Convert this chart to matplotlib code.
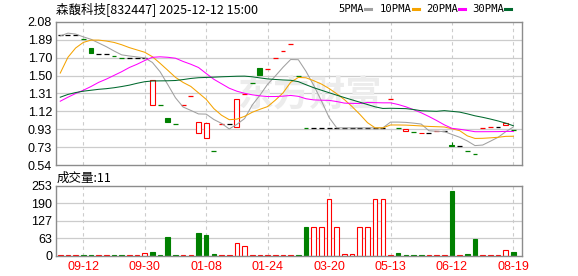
import matplotlib
matplotlib.use("Agg")
import matplotlib.pyplot as plt
from matplotlib.patches import Rectangle
import numpy as np

W, H = 578, 276

# ---------------- data ----------------
title = "森馥科技[832447] 2025-12-12 15:00"
vol_title = "成交量:11"
ma_names = ["5PMA", "10PMA", "20PMA", "30PMA"]
price_tick_labels = ["0.54", "0.73", "0.93", "1.12", "1.31", "1.50", "1.70", "1.89", "2.08"]
vol_tick_labels = ["0", "63", "127", "190", "253"]
xtick_labels = ["09-12", "09-30", "01-08", "01-24", "03-20", "05-13", "06-12", "08-19"]

opens = [1.94, 1.94, 1.94, 1.90, 1.80, 1.74, 1.74, 1.71, 1.69, 1.69,
         1.69, 1.69, 1.19, 1.19, 1.05, 0.98, 1.19, 1.28, 0.88, 0.83,
         0.69, 0.98, 0.98, 0.95, 1.30, 1.42, 1.58, 1.57, 1.69, 1.77,
         1.84, 1.50, 0.94, 0.94, 0.94, 0.94, 0.94, 0.94, 0.94, 0.94,
         0.94, 0.94, 0.94, 1.25, 0.94, 0.91, 0.90, 0.88, 0.89, 0.91,
         0.91, 0.76, 0.74, 0.69, 0.66, 0.94, 0.95, 0.95, 0.97, 0.92]
closes = [1.94, 1.94, 1.94, 1.90, 1.75, 1.74, 1.74, 1.71, 1.69, 1.69,
          1.69, 1.69, 1.46, 1.19, 1.00, 0.98, 1.19, 1.28, 1.00, 0.99,
          0.69, 0.98, 0.98, 1.25, 1.30, 1.42, 1.51, 1.57, 1.69, 1.77,
          1.84, 1.50, 0.94, 0.94, 0.94, 0.94, 0.94, 0.94, 0.94, 0.94,
          0.94, 0.94, 0.94, 1.25, 0.94, 0.925, 0.90, 0.89, 0.89, 0.91,
          0.91, 0.745, 0.74, 0.69, 0.66, 0.94, 0.95, 0.95, 0.99, 0.92]
highs = [1.94, 1.94, 1.94, 1.90, 1.80, 1.74, 1.74, 1.71, 1.69, 1.69,
         1.69, 1.69, 1.46, 1.19, 1.05, 0.98, 1.19, 1.28, 1.00, 0.99,
         0.69, 0.98, 0.98, 1.25, 1.30, 1.42, 1.58, 1.57, 1.69, 1.77,
         1.84, 1.50, 0.94, 0.94, 0.94, 0.94, 0.94, 0.94, 0.94, 0.94,
         0.94, 0.94, 0.94, 1.25, 0.94, 0.925, 0.90, 0.89, 0.89, 0.91,
         0.91, 0.79, 0.74, 0.69, 0.66, 0.94, 0.95, 0.95, 0.99, 0.92]
lows = [1.94, 1.94, 1.94, 1.90, 1.75, 1.74, 1.74, 1.71, 1.69, 1.69,
        1.69, 1.69, 1.19, 1.19, 1.00, 0.98, 1.19, 1.28, 0.88, 0.83,
        0.69, 0.98, 0.98, 0.95, 1.30, 1.42, 1.51, 1.57, 1.69, 1.77,
        1.84, 1.50, 0.94, 0.94, 0.94, 0.94, 0.94, 0.94, 0.94, 0.94,
        0.94, 0.94, 0.94, 1.25, 0.94, 0.91, 0.90, 0.88, 0.89, 0.91,
        0.91, 0.745, 0.74, 0.69, 0.66, 0.94, 0.95, 0.95, 0.97, 0.92]
# r = up, g = down, k = unchanged
candle_dir = list("kkkggkkggk" "kkrgggrrrr" "grkrrggrrr"
                  "rggkkkkkkk" "kkkrgrgrkr" "kgkggrrkrg")
volumes = [3, 3, 3, 3, 3, 3, 3, 3, 3, 3,
           3, 8, 14, 3, 66, 3, 2, 2, 82, 75,
           7, 2, 2, 44, 36, 2, 2, 2, 2, 2,
           2, 3, 102, 102, 102, 204, 102, 7, 7, 102,
           102, 204, 204, 2, 10, 3, 3, 3, 2, 2,
           2, 235, 2, 7, 60, 2, 2, 2, 20, 11]
vol_dir = list("rrrggrrggr" "rrggggrrgg" "grrrrrrrrr"
               "rggrrrrrrr" "rrrrggggrr" "rgrggrrrrg")

ma5_head = [1.93, 1.96, 1.95, 1.92]
ma10_head = [1.53, 1.70, 1.80, 1.86, 1.885, 1.885, 1.875, 1.86, 1.835]
ma20_head = [1.227, 1.27, 1.31, 1.345, 1.385, 1.43, 1.465, 1.505, 1.545, 1.59,
             1.625, 1.665, 1.70, 1.705, 1.70, 1.69, 1.655, 1.625, 1.59]
ma30_head = [1.27, 1.30, 1.32, 1.335, 1.345, 1.355, 1.362, 1.372, 1.385, 1.40,
             1.42, 1.437, 1.445, 1.446, 1.447, 1.45, 1.46, 1.472, 1.48, 1.483,
             1.486, 1.49, 1.493, 1.496, 1.497, 1.49, 1.478, 1.467, 1.461]

# ---------------- helpers ----------------
def moving_average(vals, n, head):
    out = list(head)
    for i in range(n - 1, len(vals)):
        out.append(float(np.mean(vals[i - n + 1:i + 1])))
    return out

ma5 = moving_average(closes, 5, ma5_head)
ma10 = moving_average(closes, 10, ma10_head)
ma20 = moving_average(closes, 20, ma20_head)
ma30 = moving_average(closes, 30, ma30_head)

RED = "#ff0000"
GREEN = "#008000"
BLACK = "#000000"
dir_color = {"r": RED, "g": GREEN, "k": BLACK}
ma_colors = ["#a0a0a0", "#f5a300", "#ff00ff", "#00692e"]

plt.rcParams["font.family"] = ["Liberation Sans", "DejaVu Sans"]

fig = plt.figure(figsize=(W / 100, H / 100), dpi=100)

def box(l, t, r, b):
    return [l / W, 1 - b / H, (r - l) / W, (b - t) / H]

ax = fig.add_axes(box(55.5, 22, 522.3, 165))
axv = fig.add_axes(box(55.5, 186, 522.3, 255.5))

n = len(closes)
xs = np.arange(n)
xlim = (-0.62, n + 0.16)
tick_pos = list(range(3, n, 8))[:len(xtick_labels)]

for a in (ax, axv):
    a.set_xlim(*xlim)
    for s in a.spines.values():
        s.set_color("#8c8c8c")
        s.set_linewidth(1.0)
    a.tick_params(length=0, labelsize=9, pad=2.5)
    for tp in tick_pos:
        a.axvline(tp, color="#cccccc", lw=0.8, ls=(0, (3, 3)), zorder=0)

# price panel
pmin, pmax = float(price_tick_labels[0]), float(price_tick_labels[-1])
ax.set_ylim(pmin, pmax)
pticks = np.linspace(pmin, pmax, len(price_tick_labels))
ax.set_yticks(pticks)
ax.set_yticklabels(price_tick_labels)
for y in pticks[1:-1]:
    ax.axhline(y, color="#cccccc", lw=0.9, zorder=0)
ax.set_xticks([])

# watermark
ax.text(0.545, 0.49, "东方财富", transform=ax.transAxes, fontsize=26, fontweight="bold",
        color="#ececec", ha="center", va="center", family=["Noto Sans CJK SC"], zorder=0.5)

w = 0.64
for i in xs:
    o, c, hi, lo = opens[i], closes[i], highs[i], lows[i]
    col = dir_color[candle_dir[i]]
    top, bot = max(o, c), min(o, c)
    if hi > top:
        ax.vlines(i, top, hi, color=col, lw=0.8, zorder=2)
    if lo < bot:
        ax.vlines(i, lo, bot, color=col, lw=0.8, zorder=2)
    if o == c:
        ax.hlines(c, i - w / 2, i + w / 2, color=col, lw=0.9, zorder=2)
    elif c > o:
        ax.add_patch(Rectangle((i - w / 2, o), w, c - o, facecolor="white",
                               edgecolor=RED, lw=0.8, zorder=2))
    else:
        ax.add_patch(Rectangle((i - w / 2, c), w, o - c, facecolor=GREEN,
                               edgecolor=GREEN, lw=0.8, zorder=2))

for vals, colr in zip([ma5, ma10, ma20, ma30], ma_colors):
    ax.plot(xs, vals, color=colr, lw=0.75, zorder=3)

# volume panel
vmax = float(vol_tick_labels[-1])
axv.set_ylim(0, vmax)
vticks = np.linspace(0, vmax, len(vol_tick_labels))
axv.set_yticks(vticks)
axv.set_yticklabels(vol_tick_labels)
for y in vticks[1:-1]:
    axv.axhline(y, color="#cccccc", lw=0.9, zorder=0)
vw = 0.6
for i in xs:
    v = volumes[i]
    if vol_dir[i] == "r":
        axv.add_patch(Rectangle((i - vw / 2, 0), vw, v, facecolor="white",
                                edgecolor=RED, lw=0.8, zorder=2))
    else:
        axv.add_patch(Rectangle((i - vw / 2, 0), vw, v, facecolor=GREEN,
                                edgecolor=GREEN, lw=0.8, zorder=2))
axv.set_xticks(tick_pos)
axv.set_xticklabels(xtick_labels, color=RED)
axv.tick_params(axis="x", pad=4)

# texts
def fx(x):
    return x / W

def fy(y):
    return 1 - y / H

cjk = ["Noto Sans CJK SC", "DejaVu Sans"]
fig.text(fx(56), fy(9), title, fontsize=9, family=cjk, va="center", ha="left")
fig.text(fx(57), fy(178), vol_title, fontsize=9, family=cjk, va="center", ha="left")

legend_x = [338, 380, 426, 472]
mark_x = [365, 413, 459, 505]
for name, colr, lx, mx in zip(ma_names, ma_colors, legend_x, mark_x):
    fig.text(fx(lx), fy(9), name, fontsize=7.6, family=["DejaVu Sans Mono"],
             va="center", ha="left")
    fig.add_artist(plt.Line2D([fx(mx), fx(mx + 6)], [fy(9), fy(9)],
                              color=colr, lw=2.2, transform=fig.transFigure))

fig.savefig("out.png", dpi=100)
